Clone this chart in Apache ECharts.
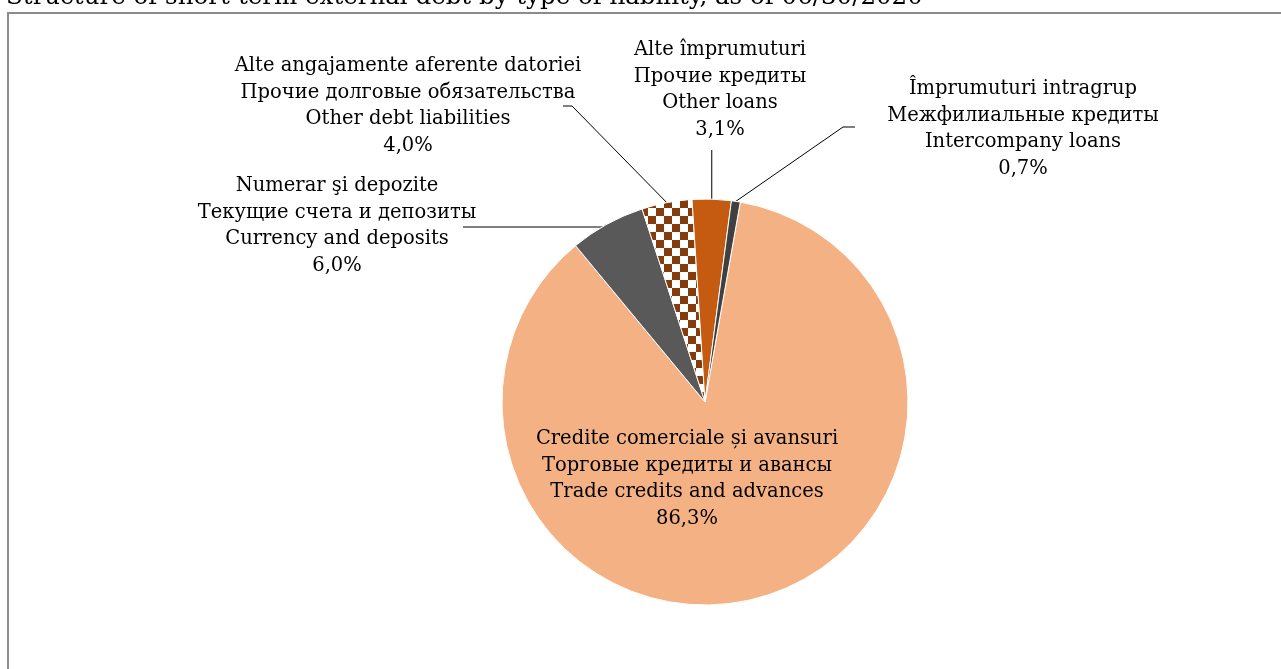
<!DOCTYPE html>
<html>
<head>
<meta charset="utf-8">
<script src="https://cdn.jsdelivr.net/npm/echarts@6/dist/echarts.min.js"></script>
<style>
  html, body { margin: 0; padding: 0; background: #fff; overflow: hidden; }
  #chart { width: 1281px; height: 669px; position: relative; }
  .frame { position: absolute; left: 7px; top: 12px; width: 1400px; height: 800px;
           border: 2px solid #8c8c8c; box-sizing: border-box; pointer-events: none; }
</style>
</head>
<body>
<div id="chart"></div>
<div class="frame"></div>
<script>
const titleText = 'Structure of short-term external debt by type of liability, as of 06/30/2020'

const categories = [
  'Credite comerciale și avansuri\nТорговые кредиты и авансы\nTrade credits and advances',
  'Numerar şi depozite\nТекущие счета и депозиты\nCurrency and deposits',
  'Alte angajamente aferente datoriei\nПрочие долговые обязательства\nOther debt liabilities',
  'Alte împrumuturi\nПрочие кредиты\nOther loans',
  'Împrumuturi intragrup\nМежфилиальные кредиты\nIntercompany loans'
]
const shares = [86.3, 6.0, 4.0, 3.1, 0.7]
const shareLabels = ['86,3%', '6,0%', '4,0%', '3,1%', '0,7%']

// label block centres and leader line bends (layout only)
const labelPos = [
  { x: 687, y: 479 },
  { x: 337, y: 226 },
  { x: 408, y: 106 },
  { x: 720, y: 90 },
  { x: 1023, y: 129 }
]
const lineBends = [
  null,
  [[603, 227], [463, 227]],
  [[572, 106], [563, 106]],
  [[null, 150]],
  [[843, 127], [855, 127]]
]

const checks = document.createElement('canvas')
checks.width = 16
checks.height = 16
const ctx = checks.getContext('2d')
ctx.fillStyle = '#ffffff'
ctx.fillRect(0, 0, 16, 16)
ctx.fillStyle = '#843c0c'
ctx.fillRect(0, 0, 8, 8)
ctx.fillRect(8, 8, 8, 8)

const colors = ['#f4b183', '#595959', { image: checks, repeat: 'repeat' }, '#c55a11', '#404040']

const font = "'DejaVu Serif', 'Liberation Serif', serif"

const chart = echarts.init(document.getElementById('chart'))

chart.setOption({
  animation: false,
  title: {
    text: titleText,
    left: 1,
    top: -20,
    textStyle: { fontFamily: font, fontSize: 24.5, fontWeight: 'normal', color: '#000' }
  },
  series: [
    {
      type: 'pie',
      center: [705, 402],
      radius: 203,
      startAngle: 80,
      clockwise: true,
      avoidLabelOverlap: false,
      emphasis: { disabled: true },
      itemStyle: { borderColor: '#fff', borderWidth: 1 },
      label: {
        show: true,
        position: 'outside',
        formatter: (p) => `${p.name}\n${shareLabels[p.dataIndex]}`,
        fontFamily: font,
        fontSize: 19.5,
        lineHeight: 26.5,
        color: '#000',
        align: 'center'
      },
      labelLine: { show: true, lineStyle: { color: '#000', width: 1 } },
      labelLayout: (params) => {
        const i = params.dataIndex
        const out = { x: labelPos[i].x, y: labelPos[i].y, align: 'center', verticalAlign: 'middle' }
        const pts = params.labelLinePoints
        if (lineBends[i] && pts) {
          const anchor = pts[0]
          out.labelLinePoints = [anchor].concat(
            lineBends[i].map((b) => [b[0] == null ? anchor[0] : b[0], b[1]])
          )
        }
        return out
      },
      data: categories.map((name, i) => ({
        name,
        value: shares[i],
        itemStyle: { color: colors[i] },
        labelLine: { show: i !== 0 }
      }))
    }
  ]
})
</script>
</body>
</html>
